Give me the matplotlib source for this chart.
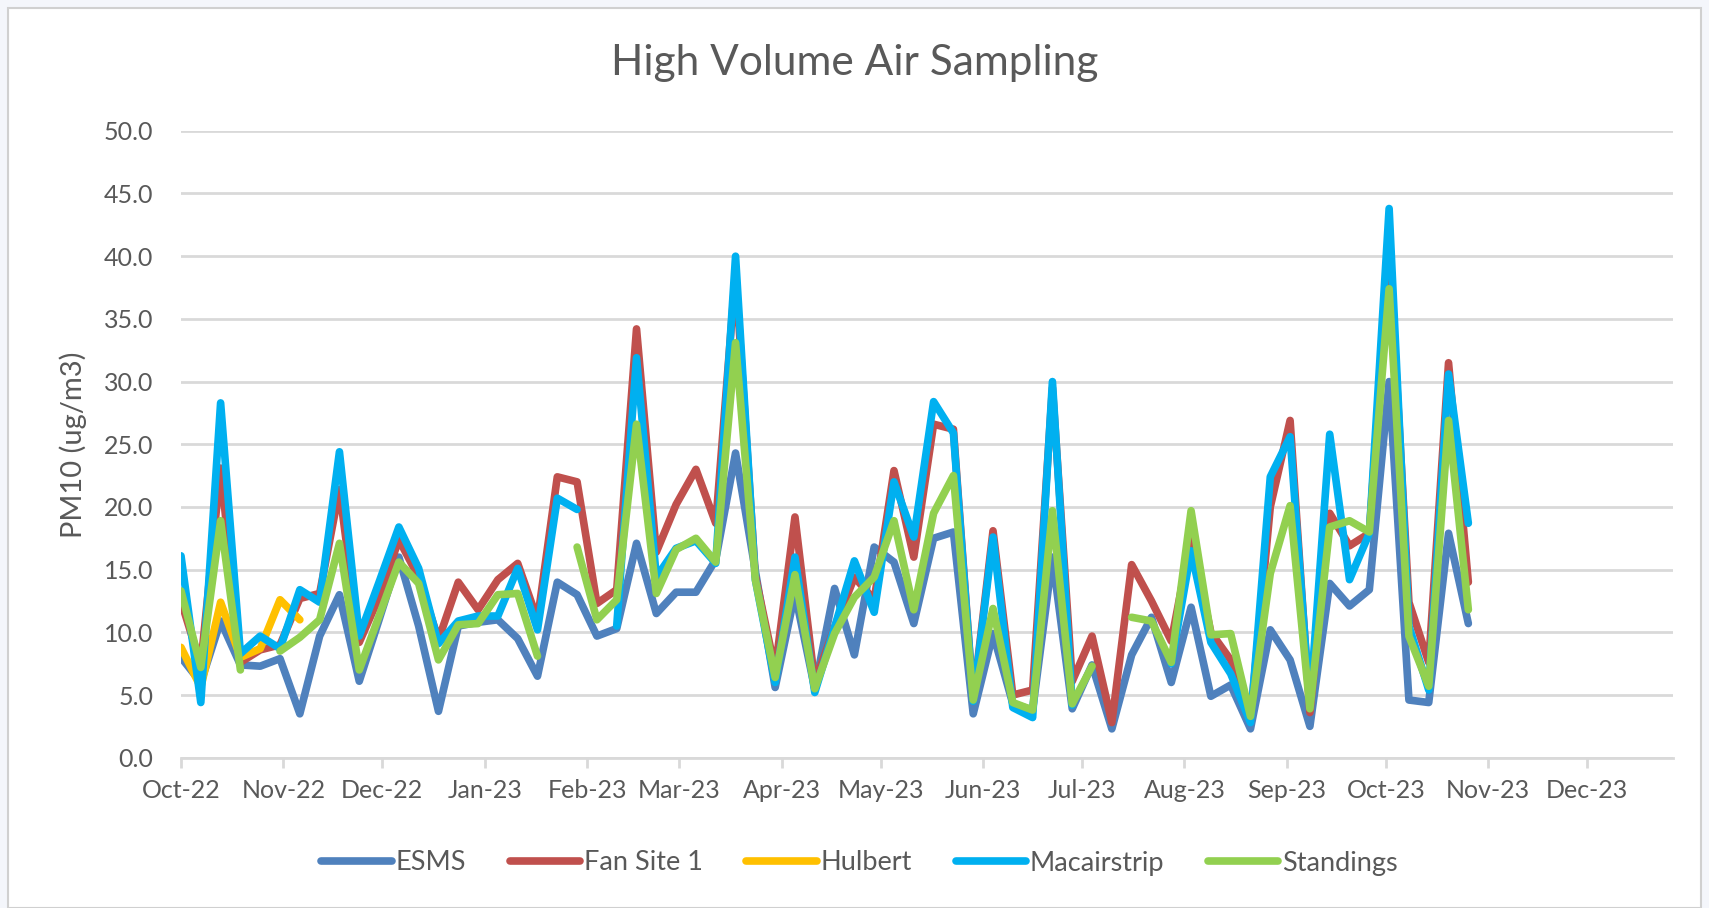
import numpy as np
import pandas as pd
import matplotlib
matplotlib.use("Agg")
import matplotlib.pyplot as plt
import matplotlib.dates as mdates
from matplotlib.patches import Rectangle

nan = np.nan

# Sampling dates (1-in-6 day schedule)
dates = pd.date_range("2022-10-01", periods=66, freq="6D")

esms = [8.0, 6.0, 10.9, 7.4, 7.3, 7.9, 3.5, 9.7, 13.0, 6.1,
        11.0, 16.0, 10.5, 3.7, 10.5, 10.8, 11.0, 9.5, 6.5, 14.0,
        13.0, 9.7, 10.3, 17.1, 11.5, 13.2, 13.2, 15.8, 24.3, 14.9,
        5.6, 13.1, 5.5, 13.5, 8.2, 16.8, 15.6, 10.7, 17.5, 18.0,
        3.5, 9.9, 4.3, 3.8, 16.0, 3.9, 7.4, 2.3, 8.2, 11.2,
        6.0, 12.0, 4.9, 5.8, 2.3, 10.2, 7.8, 2.5, 13.9, 12.1,
        13.4, 30.0, 4.6, 4.4, 17.9, 10.7]

fan_site_1 = [12.5, 7.4, 23.1, 7.6, 8.6, 9.0, 12.7, 13.1, 21.4, 9.2,
              12.8, 17.4, 14.4, 9.4, 14.0, 11.8, 14.2, 15.5, 11.0, 22.4,
              22.0, 12.3, 13.4, 34.2, 16.4, 20.2, 23.0, 18.7, 38.7, 14.5,
              7.0, 19.2, 6.0, 10.4, 14.4, 12.6, 22.9, 16.0, 26.6, 26.2,
              4.6, 18.1, 5.0, 5.4, 29.5, 6.1, 9.7, 2.8, 15.4, 12.5,
              9.3, 17.5, 10.0, 7.8, 3.1, 20.0, 26.9, 3.6, 19.5, 16.9,
              17.9, 41.0, 12.4, 7.6, 31.5, 14.0]

hulbert = [8.8, 5.6, 12.4, 8.0, 8.7, 12.6, 11.0] + [nan] * 59

macairstrip = [16.1, 4.4, 28.3, 8.3, 9.7, 8.7, 13.4, 12.4, 24.4, 9.7,
               14.0, 18.4, 15.1, 9.1, 10.9, 11.3, 11.3, 15.1, 10.2, 20.7,
               19.8, nan, 10.5, 31.9, 14.4, 16.7, 17.3, 15.5, 40.0, 14.2,
               6.0, 16.0, 5.2, 10.4, 15.7, 11.6, 22.0, 17.6, 28.4, 25.9,
               4.5, 17.6, 4.0, 3.2, 30.0, 4.2, nan, nan, nan, nan,
               7.5, 16.5, 9.2, 6.7, 2.8, 22.4, 25.6, 4.1, 25.8, 14.2,
               17.9, 43.8, 10.5, 5.4, 30.6, 18.7]

standings = [13.3, 7.2, 18.9, 7.0, nan, 8.5, 9.6, 11.0, 17.1, 7.0,
             11.3, 15.6, 13.9, 7.8, 10.6, 10.7, 13.0, 13.1, 8.1, nan,
             16.8, 11.0, 12.6, 26.6, 13.1, 16.6, 17.5, 15.6, 33.1, 14.2,
             6.4, 14.6, 5.5, 9.9, 12.8, 14.4, 18.9, 11.8, 19.5, 22.5,
             4.6, 11.9, 4.4, 3.8, 19.7, 4.3, 7.3, nan, 11.2, 10.9,
             7.6, 19.7, 9.8, 9.9, 3.3, 14.7, 20.1, 3.9, 18.4, 18.9,
             18.0, 37.4, 9.7, 5.7, 26.9, 11.8]

series_names = ["ESMS", "Fan Site 1", "Hulbert", "Macairstrip", "Standings"]
series_values = [esms, fan_site_1, hulbert, macairstrip, standings]
series_colors = ["#4F81BD", "#C0504D", "#FFC000", "#00B0F0", "#92D050"]

title_text = "High Volume Air Sampling"
y_label = "PM10 (ug/m3)"

plt.rcParams["font.family"] = ["Lato", "DejaVu Sans"]
text_color = "#595959"
grid_color = "#D9D9D9"
fs = 18

W, H = 1709, 908
fig = plt.figure(figsize=(W / 100, H / 100), dpi=100)
fig.patch.set_facecolor("#F4F6FB")
# chart area (white with light border)
fig.patches.append(Rectangle((8 / W, 0), (W - 16) / W, (H - 8) / H,
                             transform=fig.transFigure, facecolor="white",
                             edgecolor="#D0D0D0", linewidth=1.5, zorder=-5))

ax_left, ax_right = 181 / W, 1673 / W
ax_bottom, ax_top = 1 - 757.7 / H, 1 - 130.8 / H
ax = fig.add_axes([ax_left, ax_bottom, ax_right - ax_left, ax_top - ax_bottom])
ax.set_facecolor("none")
ax.set_zorder(2)

for name, vals, col in zip(series_names, series_values, series_colors):
    ax.plot(dates, vals, color=col, lw=5.5, label=name,
            solid_capstyle="round", solid_joinstyle="round", zorder=3)

ax.set_ylim(0, 50)
ax.set_yticks(np.arange(0, 50.01, 5))
ax.yaxis.set_major_formatter(matplotlib.ticker.FormatStrFormatter("%.1f"))
ax.set_xlim(pd.Timestamp("2022-10-01"), pd.Timestamp("2023-12-27"))
ax.xaxis.set_major_locator(mdates.MonthLocator())
ax.xaxis.set_major_formatter(mdates.DateFormatter("%b-%y"))

ax.grid(axis="y", color=grid_color, lw=2, zorder=0)
for s in ["top", "right", "left"]:
    ax.spines[s].set_visible(False)
ax.spines["bottom"].set_color(grid_color)
ax.spines["bottom"].set_linewidth(2)
ax.spines["bottom"].set_zorder(1)

ax.tick_params(axis="y", length=0, pad=20, labelsize=fs, labelcolor=text_color)
ax.tick_params(axis="x", length=7, width=2, color=grid_color, pad=8,
               labelsize=fs, labelcolor=text_color)

ax.set_ylabel(y_label, fontsize=21, color=text_color, labelpad=12)
fig.text(0.5, 1 - 63 / H, title_text, ha="center", va="center",
         fontsize=30.5, color=text_color)

leg = fig.legend(loc="center", bbox_to_anchor=(0.503, 1 - 863 / H), ncol=5,
                 frameon=False, fontsize=19.5, handlelength=2.6,
                 handletextpad=0.15, columnspacing=1.6)
for t in leg.get_texts():
    t.set_color(text_color)

fig.savefig("out.png", dpi=100, facecolor=fig.get_facecolor())
